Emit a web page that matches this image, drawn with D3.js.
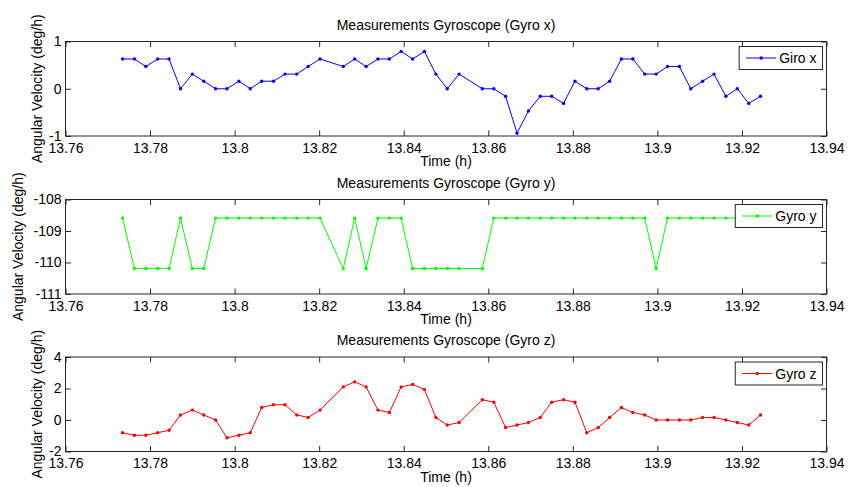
<!DOCTYPE html>
<html>
<head>
<meta charset="utf-8">
<script src="https://cdn.jsdelivr.net/npm/d3@7"></script>
<style>
    body { margin: 0; background: #fff; }
    svg text { font-family: "Liberation Sans", Arial, sans-serif; fill: #000; }
</style>
</head>
<body>
<div id="chart"></div>
<script>
// time of each sample (hours)
const timeH = [
    13.7735, 13.7763, 13.7790, 13.7818, 13.7845, 13.7872, 13.7900, 13.7927, 13.7955, 13.7982,
    13.8010, 13.8037, 13.8064, 13.8092, 13.8119, 13.8147, 13.8174, 13.8202,
    13.8257, 13.8284, 13.8311, 13.8339, 13.8366, 13.8394, 13.8421, 13.8449, 13.8476, 13.8503, 13.8531,
    13.8586, 13.8613, 13.8641, 13.8668, 13.8695, 13.8723, 13.8750, 13.8778, 13.8805, 13.8833,
    13.8860, 13.8887, 13.8915, 13.8942, 13.8970, 13.8997, 13.9024, 13.9052, 13.9079, 13.9107,
    13.9134, 13.9162, 13.9189, 13.9216, 13.9244
];
const gyroX = [
    0.63, 0.63, 0.47, 0.63, 0.63, 0, 0.31, 0.16, 0, 0,
    0.16, 0, 0.16, 0.16, 0.31, 0.31, 0.47, 0.63,
    0.47, 0.63, 0.47, 0.63, 0.63, 0.79, 0.63, 0.79, 0.31, 0, 0.31,
    0, 0, -0.16, -0.94, -0.47, -0.16, -0.16, -0.31, 0.16, 0,
    0, 0.16, 0.63, 0.63, 0.31, 0.31, 0.47, 0.47, 0, 0.16,
    0.31, -0.16, 0, -0.31, -0.16
];
const gyroY = [
    -108.59, -110.19, -110.19, -110.19, -110.19, -108.59, -110.19, -110.19, -108.59, -108.59,
    -108.59, -108.59, -108.59, -108.59, -108.59, -108.59, -108.59, -108.59,
    -110.19, -108.59, -110.19, -108.59, -108.59, -108.59, -110.19, -110.19, -110.19, -110.19, -110.19,
    -110.19, -108.59, -108.59, -108.59, -108.59, -108.59, -108.59, -108.59, -108.59, -108.59,
    -108.59, -108.59, -108.59, -108.59, -108.59, -110.19, -108.59, -108.59, -108.59, -108.59,
    -108.59, -108.59, -108.59, -108.59, -108.59
];
const gyroZ = [
    -0.81, -0.97, -0.97, -0.81, -0.65, 0.32, 0.63, 0.32, 0, -1.13,
    -0.97, -0.81, 0.79, 0.97, 0.97, 0.32, 0.16, 0.63,
    2.1, 2.42, 2.1, 0.63, 0.48, 2.1, 2.26, 1.94, 0.16, -0.32, -0.16,
    1.29, 1.13, -0.48, -0.32, -0.16, 0.16, 1.13, 1.29, 1.13, -0.81,
    -0.48, 0.16, 0.79, 0.48, 0.32, 0, 0, 0, 0, 0.16,
    0.16, 0, -0.16, -0.32, 0.32
];
const xTicks = [13.76, 13.78, 13.8, 13.82, 13.84, 13.86, 13.88, 13.9, 13.92, 13.94];
const yTicksX = [-1, 0, 1];
const yTicksY = [-111, -110, -109, -108];
const yTicksZ = [-2, 0, 2, 4];
const titles = ["Measurements Gyroscope (Gyro x)", "Measurements Gyroscope (Gyro y)", "Measurements Gyroscope (Gyro z)"];
const legendNames = ["Giro x", "Gyro y", "Gyro z"];
const seriesColors = ["#0000ff", "#00ff00", "#ff0000"];

const width = 849, height = 487;
const left = 65.5, right = 826.5;
const plotH = 94.5;
const frameColor = "#262626";

const svg = d3.select("#chart")
    .append("svg")
    .attr("width", width)
    .attr("height", height);

const x = d3.scaleLinear().domain([13.76, 13.94]).range([left, right]);

const panels = [
    {top: 41.5, values: gyroX, ticks: yTicksX, labelX: 41.5},
    {top: 199.5, values: gyroY, ticks: yTicksY, labelX: 23},
    {top: 357, values: gyroZ, ticks: yTicksZ, labelX: 41.5}
];

panels.forEach(function(p, i){
    const bottom = p.top + plotH;
    const y = d3.scaleLinear()
        .domain([d3.min(p.ticks), d3.max(p.ticks)])
        .range([bottom, p.top]);
    const g = svg.append("g");

    // axes, ticks pointing inwards on all four sides
    const fmt = d => String(d);
    const axB = g.append("g")
        .attr("transform", `translate(0,${bottom})`)
        .call(d3.axisBottom(x).tickValues(xTicks).tickFormat(fmt).tickSizeInner(-5.5).tickSizeOuter(0).tickPadding(7));
    const axT = g.append("g")
        .attr("transform", `translate(0,${p.top})`)
        .call(d3.axisTop(x).tickValues(xTicks).tickFormat("").tickSizeInner(-5.5).tickSizeOuter(0));
    const axL = g.append("g")
        .attr("transform", `translate(${left},0)`)
        .call(d3.axisLeft(y).tickValues(p.ticks).tickFormat(fmt).tickSizeInner(-5.5).tickSizeOuter(0).tickPadding(4));
    const axR = g.append("g")
        .attr("transform", `translate(${right},0)`)
        .call(d3.axisRight(y).tickValues(p.ticks).tickFormat("").tickSizeInner(-5.5).tickSizeOuter(0));
    [axB, axT, axL, axR].forEach(function(a){
        a.select(".domain").remove();
        a.selectAll(".tick line").attr("stroke", frameColor);
        a.selectAll(".tick text")
            .style("font-size", "14px")
            .attr("fill", "#000");
    });

    g.append("rect")
        .attr("x", left)
        .attr("y", p.top)
        .attr("width", right - left)
        .attr("height", plotH)
        .attr("fill", "none")
        .attr("stroke", frameColor)
        .attr("stroke-width", 1);

    // series
    const pts = timeH.map((t, k) => [t, p.values[k]]);
    const line = d3.line()
        .x(d => x(d[0]))
        .y(d => y(d[1]));
    g.append("path")
        .datum(pts)
        .attr("d", line)
        .attr("fill", "none")
        .attr("stroke", seriesColors[i])
        .attr("stroke-width", 1);
    g.selectAll("circle.pt")
        .data(pts)
        .enter()
        .append("circle")
        .attr("class", "pt")
        .attr("cx", d => x(d[0]))
        .attr("cy", d => y(d[1]))
        .attr("r", 1.7)
        .attr("fill", seriesColors[i]);

    // labels
    g.append("text")
        .attr("x", (left + right) / 2)
        .attr("y", p.top - 12)
        .attr("text-anchor", "middle")
        .style("font-size", "14px")
        .text(titles[i]);
    g.append("text")
        .attr("x", (left + right) / 2)
        .attr("y", bottom + 30)
        .attr("text-anchor", "middle")
        .style("font-size", "14px")
        .text("Time (h)");
    g.append("text")
        .attr("transform", `translate(${p.labelX},${(p.top + bottom) / 2}) rotate(-90)`)
        .attr("text-anchor", "middle")
        .style("font-size", "14px")
        .text("Angular Velocity (deg/h)");

    // legend
    const leg = g.append("g");
    const box = leg.append("rect");
    const lt = leg.append("text")
        .style("font-size", "14px")
        .text(legendNames[i]);
    const tw = lt.node().getComputedTextLength();
    const bw = tw + 46, bh = 23;
    const bx = right - 4 - bw, by = p.top + 5;
    box.attr("x", bx).attr("y", by)
        .attr("width", bw).attr("height", bh)
        .attr("fill", "#fff")
        .attr("stroke", frameColor)
        .attr("stroke-width", 1);
    lt.attr("x", bx + 40).attr("y", by + bh / 2 + 5);
    leg.append("line")
        .attr("x1", bx + 7).attr("x2", bx + 37)
        .attr("y1", by + bh / 2).attr("y2", by + bh / 2)
        .attr("stroke", seriesColors[i])
        .attr("stroke-width", 1);
    leg.append("circle")
        .attr("cx", bx + 22).attr("cy", by + bh / 2)
        .attr("r", 1.7)
        .attr("fill", seriesColors[i]);
});
</script>
</body>
</html>
